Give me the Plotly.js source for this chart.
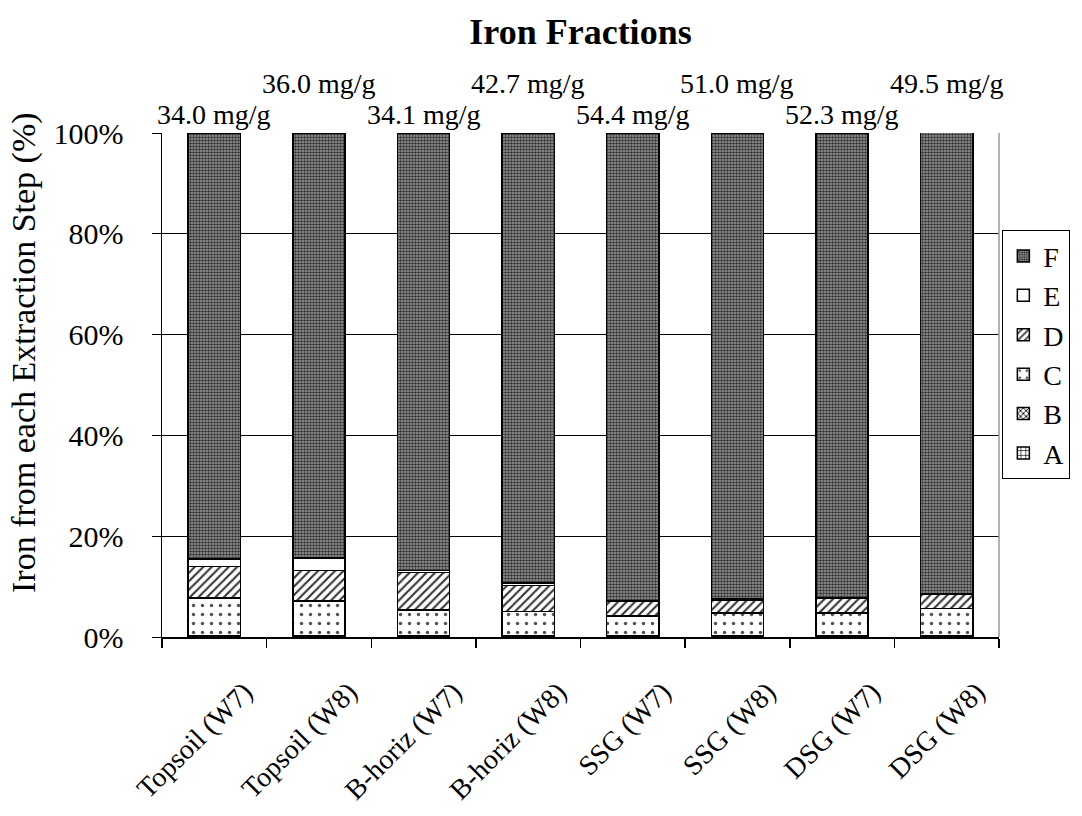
<!DOCTYPE html>
<html>
<head>
<meta charset="utf-8">
<script src="https://cdn.plot.ly/plotly-3.0.1.min.js"></script>
<style>html,body{margin:0;padding:0;background:#fff;}#chart{width:1082px;height:816px;}</style>
</head>
<body>
<div id="chart"></div>
<script>
const categories = ["Topsoil (W7)", "Topsoil (W8)", "B-horiz (W7)", "B-horiz (W8)", "SSG (W7)", "SSG (W8)", "DSG (W7)", "DSG (W8)"];
const fracA = [0.1, 0.1, 0.1, 0.1, 0.1, 0.1, 0.1, 0.1];
const fracB = [0.1, 0.1, 0.1, 0.1, 0.1, 0.1, 0.1, 0.1];
const fracC = [7.5, 6.9, 5.2, 4.9, 4.0, 4.6, 4.6, 5.5];
const fracD = [6.3, 6.1, 7.4, 5.1, 2.9, 2.5, 2.8, 2.8];
const fracE = [1.5, 2.5, 0.4, 0.5, 0.1, 0.2, 0.1, 0.1];
const fracF = [84.5, 84.3, 86.8, 89.3, 92.8, 92.5, 92.3, 91.5];
const totals = ["34.0 mg/g", "36.0 mg/g", "34.1 mg/g", "42.7 mg/g", "54.4 mg/g", "51.0 mg/g", "52.3 mg/g", "49.5 mg/g"];
const tickVals = [0, 20, 40, 60, 80, 100];
const tickText = ["0%", "20%", "40%", "60%", "80%", "100%"];
const yTitle = "Iron from each Extraction Step (%)";

const FONT = "Liberation Serif, Times New Roman, serif";
const line = {color: "#000", width: 1.5};

function tr(name, y, marker) {
  return {type: "bar", name: name, x: categories, y: y, legendgroup: name,
    marker: Object.assign({line: line}, marker), hoverinfo: "y+name"};
}
const data = [
  tr("A", fracA, {color: "#fff", pattern: {shape: "+", fgcolor: "#000", bgcolor: "#fff", size: 6, solidity: 0.25}}),
  tr("B", fracB, {color: "#fff", pattern: {shape: "x", fgcolor: "#000", bgcolor: "#fff", size: 5, solidity: 0.4}}),
  tr("C", fracC, {color: "#fff", pattern: {shape: ".", fgcolor: "#555", bgcolor: "#fff", size: 9, solidity: 0.12}}),
  tr("D", fracD, {color: "#fff", pattern: {shape: "/", fgcolor: "#333", bgcolor: "#fff", size: 6, solidity: 0.35}}),
  tr("E", fracE, {color: "#fff"}),
  tr("F", fracF, {color: "#7a7a7a", pattern: {shape: ".", fgcolor: "#333", bgcolor: "#a0a0a0", size: 3, solidity: 0.55}})
];

const annotations = categories.map((c, i) => ({
  x: c, xref: "x", yref: "paper", y: (i % 2 === 0) ? 1.036 : 1.099,
  text: totals[i], showarrow: false, yanchor: "middle", xanchor: "center",
  font: {family: FONT, size: 28, color: "#000"}
}));
annotations.push({
  xref: "paper", yref: "paper", x: -0.164, y: 0.565, text: yTitle, textangle: -90,
  showarrow: false, xanchor: "center", yanchor: "middle",
  font: {family: FONT, size: 34, color: "#000"}
});

const layout = {
  width: 1082, height: 816,
  paper_bgcolor: "#fff", plot_bgcolor: "#fff",
  margin: {l: 162, r: 79, t: 133, b: 179},
  barmode: "stack", bargap: 0.5,
  font: {family: FONT, size: 28, color: "#000"},
  title: {text: "<b>Iron Fractions</b>", x: 0.5, xref: "paper", y: 0.962, yref: "container", yanchor: "middle",
    font: {family: FONT, size: 36, color: "#000"}},
  xaxis: {type: "category", tickson: "boundaries", ticks: "outside", ticklen: 9, tickcolor: "#000", tickwidth: 1.5,
    showline: true, linecolor: "#000", linewidth: 1.5, showgrid: false, tickangle: -45,
    ticklabelshift: 30, ticklabelstandoff: 26,
    tickfont: {family: FONT, size: 28, color: "#000"}, range: [-0.5, 7.5]},
  yaxis: {range: [0, 100], tickvals: tickVals, ticktext: tickText, ticks: "outside", ticklen: 9, tickcolor: "#000", tickwidth: 1,
    showline: true, linecolor: "#000", linewidth: 1.5, showgrid: true, gridcolor: "#000", gridwidth: 1, zeroline: false,
    ticklabelstandoff: 22,
    tickfont: {family: FONT, size: 30, color: "#000"}},
  legend: {x: 1.004, xanchor: "left", y: 0.56, yanchor: "middle", traceorder: "reversed",
    bordercolor: "#000", borderwidth: 1, bgcolor: "#fff", tracegroupgap: 9,
    font: {family: FONT, size: 28, color: "#000"}, itemwidth: 30},
  annotations: annotations,
  shapes: [{type: "line", xref: "paper", yref: "paper", x0: 1, x1: 1, y0: 0, y1: 1, line: {color: "#999", width: 1.5}}],
  showlegend: true
};
Plotly.newPlot("chart", data, layout, {displayModeBar: false, staticPlot: true});
</script>
</body>
</html>
